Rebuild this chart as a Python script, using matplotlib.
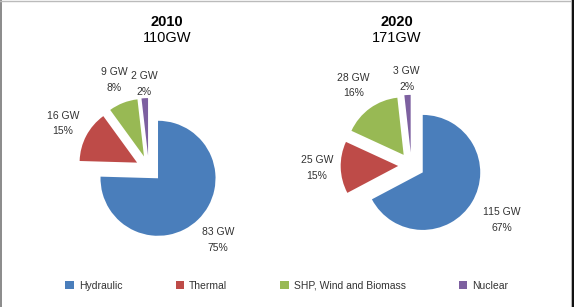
import numpy as np
import matplotlib
matplotlib.use("Agg")
import matplotlib.pyplot as plt
from matplotlib.lines import Line2D

plt.rcParams['font.family'] = ['Liberation Sans', 'DejaVu Sans']

categories = ["Hydraulic", "Thermal", "SHP, Wind and Biomass", "Nuclear"]
years = ["2010", "2020"]
totals = ["110GW", "171GW"]
values_2010 = [83, 16, 9, 2]
values_2020 = [115, 25, 28, 3]
pct_2010 = ["75%", "15%", "8%", "2%"]
pct_2020 = ["67%", "15%", "16%", "2%"]

colors = ["#4A7EBB", "#BE4B48", "#98B954", "#7D60A0"]

W, H = 574, 307
fig = plt.figure(figsize=(W / 100, H / 100), dpi=100)

scale = 57.5  # px per unit radius
axsize = 200  # px

cfg = [
    dict(vals=values_2010, pct=pct_2010, center=(148.8, 168.8),
         ld=[1.50, 1.46, 1.43, 1.25], title_x=167),
    dict(vals=values_2020, pct=pct_2020, center=(411.4, 165.6),
         ld=[1.60, 1.41, 1.485, 1.28], title_x=397),
]

wedges_first = None
for i, c in enumerate(cfg):
    cx, cy = c["center"]
    ax = fig.add_axes([(cx - axsize / 2) / W, (H - cy - axsize / 2) / H,
                       axsize / W, axsize / H])
    L = axsize / 2 / scale
    wedges, _ = ax.pie(c["vals"], colors=colors, startangle=90, counterclock=False,
                       explode=[0.23] * 4, radius=1.0,
                       wedgeprops=dict(linewidth=0))
    ax.set_xlim(-L, L)
    ax.set_ylim(-L, L)
    ax.set_aspect('equal')
    ax.axis('off')
    if wedges_first is None:
        wedges_first = wedges
    for w, v, p, ld in zip(wedges, c["vals"], c["pct"], c["ld"]):
        th = np.radians((w.theta1 + w.theta2) / 2)
        x0, y0 = w.center
        ax.text(x0 + ld * w.r * np.cos(th), y0 + ld * w.r * np.sin(th),
                f"{v} GW\n{p}", ha='center', va='center', fontsize=7.5,
                color='#333333', linespacing=1.7)
    fig.text(c["title_x"] / W, 1 - 22 / H, years[i], ha='center', va='center',
             fontsize=10.5, fontweight='bold', color='black')
    fig.text(c["title_x"] / W, 1 - 38.5 / H, totals[i], ha='center', va='center',
             fontsize=10.5, color='black')

leg = fig.legend(wedges_first, categories, loc='center', ncol=4,
                 bbox_to_anchor=(0.5, 1 - 286 / H), frameon=False, fontsize=7.5,
                 handlelength=0.8, handleheight=0.8, handletextpad=0.5,
                 columnspacing=5.1)
for t in leg.get_texts():
    t.set_color('#333333')

# frame lines
fig.add_artist(Line2D([0.8 / W, 0.8 / W], [0, 1], color='#777777', lw=1.2,
                      transform=fig.transFigure))
fig.add_artist(Line2D([0, 1], [1 - 0.6 / H, 1 - 0.6 / H], color='#bbbbbb', lw=1.0,
                      transform=fig.transFigure))
fig.add_artist(Line2D([571.2 / W, 571.2 / W], [0, 1], color='#cccccc', lw=0.8,
                      transform=fig.transFigure))
fig.add_artist(Line2D([573 / W, 573 / W], [0, 1], color='#111111', lw=1.6,
                      transform=fig.transFigure))

fig.savefig("out.png", dpi=100, facecolor='white')
